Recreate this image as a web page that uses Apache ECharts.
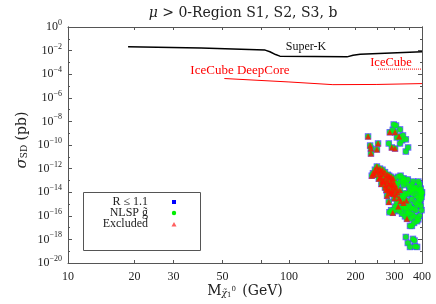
<!DOCTYPE html>
<html><head><meta charset="utf-8">
<script src="https://cdn.jsdelivr.net/npm/echarts@6/dist/echarts.min.js"></script>
<style>html,body{margin:0;padding:0;background:#fff}#c{width:436px;height:304px}</style>
</head><body><div id="c"></div>
<script>
// ---- data ----
const xLabelValues = [10, 20, 30, 50, 100, 200, 300, 400];
const xTickValues = [20, 30, 50, 75, 100, 150, 200, 250, 300, 350];
const yLabelValues = [1, 1e-2, 1e-4, 1e-6, 1e-8, 1e-10, 1e-12, 1e-14, 1e-16, 1e-18, 1e-20];
const yMinorValues = [1e-1, 1e-3, 1e-5, 1e-7, 1e-9, 1e-11, 1e-13, 1e-15, 1e-17, 1e-19];

const superK = [[18.7, 2.1e-2], [40, 1.7e-2], [78, 1.1e-2], [82, 8e-3], [87, 4.6e-3], [91, 3.4e-3],
  [130, 3.2e-3], [183, 2.95e-3], [195, 4e-3], [210, 5e-3], [400, 7.9e-3]];
const iceCubeDeepCore = [[51, 4.3e-5], [100, 2.2e-5], [158, 1.3e-5], [250, 1.35e-5], [400, 1.6e-5]];
const iceCube = [[253, 2.7e-4], [400, 2.7e-4]];

// points: NLSP gluino (green) not excluded
const nlspPoints = [
  [298, 5.5e-9], [305, 4.5e-9], [318, 2.1e-9], [295, 1.9e-9], [308, 4.4e-10], [328, 6.5e-10],
  [338, 3e-10], [283, 1.35e-10], [318, 1.35e-10], [325, 2.5e-10], [346, 6.2e-11], [338, 2.8e-11],
  [320, 2.5e-13], [330, 1.5e-13], [312, 2e-13], [330, 1e-13], [345, 1.2e-13], [365, 8e-14],
  [300, 9e-14], [310, 5e-14], [320, 8e-14], [330, 4e-14], [340, 6e-14], [350, 3e-14], [360, 4.5e-14],
  [370, 2e-14], [380, 1.2e-14], [392, 6e-15], [395, 2.5e-15], [385, 3e-15], [375, 5e-15], [362, 8e-15],
  [352, 1.2e-14], [345, 7e-15], [335, 8e-15], [325, 5e-15], [360, 2.5e-15], [372, 1.3e-15], [388, 1.5e-15],
  [350, 9e-16], [332, 4e-15], [308, 1.2e-15], [302, 6e-16], [300, 3e-16], [315, 2.5e-16], [325, 1.5e-16],
  [338, 3e-16], [350, 2e-16], [362, 1.2e-16], [372, 8e-17], [355, 6e-17], [380, 3.5e-17], [360, 1.4e-17],
  [368, 2.5e-17], [335, 9e-17], [345, 1.5e-16], [398, 4e-15], [400, 1e-14], [290, 3e-16], [285, 2e-16],
  [390, 5e-14], [395, 2e-14], [385, 8e-14], [398, 8e-15], [390, 1.5e-14], [398, 3e-16], [390, 1e-16],
  [385, 5e-17], [375, 3e-16], [365, 4e-16], [355, 5e-16], [340, 5e-16], [330, 6e-16], [320, 4e-16],
  [353, 1.4e-17], [375, 2.5e-14], [360, 1.8e-14], [395, 7e-16], [380, 8e-16],
  [338, 1.6e-18], [364, 1.1e-18], [345, 5e-19], [353, 2.3e-19], [380, 2.3e-19], [372, 2.5e-19], [370, 8e-19]
];
// excluded points (red)
const excludedPoints = [
  [228, 5.3e-10], [233, 9e-11], [235, 5e-11], [235, 1.9e-11], [253, 1.35e-10], [250, 4.2e-11],
  [286, 1.2e-9], [302, 1.2e-9], [315, 5.3e-10], [292, 6.2e-11], [302, 5e-11],
  [250, 1.5e-12], [240, 4e-13], [237, 2.5e-13], [243, 3e-13], [247, 5e-13], [252, 7e-13], [256, 3.5e-13],
  [260, 6e-13], [262, 2e-13], [255, 1.4e-13], [266, 3.5e-13], [270, 1.2e-13], [268, 7e-14], [275, 2e-13],
  [278, 9e-14], [274, 4e-14], [282, 5e-14], [285, 1.4e-13], [288, 6e-14], [290, 2.5e-14], [280, 2e-14],
  [284, 1.2e-14], [294, 1.3e-14], [298, 3e-14], [296, 7e-15], [302, 1.6e-14], [305, 6e-15], [310, 1e-14],
  [288, 8e-15], [278, 5e-15], [300, 3e-15], [315, 3e-15], [320, 1.8e-15], [330, 1.2e-15], [340, 2e-15],
  [312, 6e-16], [295, 1.8e-16], [342, 5.5e-17], [318, 1.5e-14], [258, 1.8e-13], [264, 9e-14], [292, 4e-14],
  [272, 2.5e-14], [306, 2.5e-14], [283, 1.5e-15],
  [245, 8e-13], [258, 1e-12], [265, 8e-13], [272, 5e-13], [280, 3e-13], [290, 2e-13], [295, 9e-14],
  [300, 5e-14], [262, 5e-14], [276, 1.5e-14], [290, 1e-14], [284, 2.5e-13], [296, 1.5e-13]
];

// ---- chart ----
const SERIF = "'Liberation Serif', 'DejaVu Serif', serif";
const WSERIF = "'DejaVu Serif', 'Liberation Serif', serif";
const AX = '#555';
const allPoints = nlspPoints.concat(excludedPoints);

function expFmt(v) {
  const e = Math.round(Math.log10(v));
  return '{b|10}{s|' + (e < 0 ? '\u2212' + (-e) : String(e)) + '}';
}
const yRich = {
  b: { fontFamily: SERIF, fontSize: 12, color: '#222' },
  s: { fontFamily: SERIF, fontSize: 8, color: '#222', padding: [0, 0, 8, 0] }
};

function xAxisDef(pos, labels) {
  return {
    type: 'log', logBase: 10, min: 10, max: 400, position: pos,
    axisLine: { show: true, lineStyle: { color: AX, width: 1 } },
    axisTick: { show: true, inside: true, length: 3, lineStyle: { color: AX }, customValues: xTickValues },
    axisLabel: labels ? { show: true, customValues: xLabelValues, margin: 8, fontFamily: SERIF, fontSize: 12, color: '#222', formatter: v => String(Math.round(v)) } : { show: false },
    splitLine: { show: false }, minorTick: { show: false }
  };
}
function yAxisDef(pos, ticks, len, labels) {
  return {
    type: 'log', logBase: 10, min: 1e-20, max: 1, position: pos,
    axisLine: { show: true, lineStyle: { color: AX, width: 1 } },
    axisTick: { show: true, inside: true, length: len, lineStyle: { color: AX }, customValues: ticks },
    axisLabel: labels ? { show: true, customValues: yLabelValues, margin: 6, formatter: expFmt, rich: yRich } : { show: false },
    splitLine: { show: false }, minorTick: { show: false }
  };
}

const chart = echarts.init(document.getElementById('c'), null, { renderer: 'canvas' });
chart.setOption({
  animation: false,
  backgroundColor: '#fff',
  grid: { left: 68, right: 14, top: 27, bottom: 41, containLabel: false },
  xAxis: [xAxisDef('bottom', true), xAxisDef('top', false)],
  yAxis: [
    yAxisDef('left', yLabelValues, 4, true),
    yAxisDef('left', yMinorValues, 2, false),
    yAxisDef('right', yLabelValues, 4, false),
    yAxisDef('right', yMinorValues, 2, false)
  ],
  series: [
    { type: 'line', data: superK, symbol: 'none', lineStyle: { color: '#000', width: 1.5 }, xAxisIndex: 0, yAxisIndex: 0 },
    { type: 'line', data: iceCubeDeepCore, symbol: 'none', lineStyle: { color: '#ff0000', width: 1 } },
    { type: 'line', data: iceCube, symbol: 'none', lineStyle: { color: '#ff0000', width: 1, type: 'dotted' } },
    { name: 'R', type: 'scatter', data: allPoints, symbol: 'rect', symbolSize: 6.5, itemStyle: { color: '#4040ff' } },
    { name: 'NLSP', type: 'scatter', data: allPoints, symbol: 'circle', symbolSize: 5.5, itemStyle: { color: '#00ff00' } },
    { name: 'Excl', type: 'scatter', data: excludedPoints, symbol: 'triangle', symbolSize: 6, itemStyle: { color: '#ff1000' } }
  ],
  graphic: [
    { type: 'text', x: 243, y: 13, style: { text: '{i|\u03bc} > 0-Region S1, S2, S3, b', align: 'center', verticalAlign: 'middle', rich: { i: { fontFamily: WSERIF, fontStyle: 'italic', fontSize: 14, color: '#222' } }, font: '14px ' + WSERIF, fill: '#222' } },
    { type: 'text', x: 245, y: 291, style: { text: 'M{sub|\u03c7\u0303}{s1|1}{s0|0} (GeV)', align: 'center', verticalAlign: 'middle', font: '14px ' + WSERIF, fill: '#222',
        rich: { sub: { fontFamily: WSERIF, fontStyle: 'italic', fontSize: 9, color: '#222', padding: [6, 0, 0, 0] }, s1: { fontFamily: WSERIF, fontSize: 7, color: '#222', padding: [8, 0, 0, 0] }, s0: { fontFamily: WSERIF, fontSize: 7, color: '#222', padding: [0, 2, 4, 0] } } } },
    { type: 'text', x: 22, y: 140, rotation: Math.PI / 2, style: { text: '{i|\u03c3}{sub|SD} (pb)', align: 'center', verticalAlign: 'middle', font: '14px ' + WSERIF, fill: '#222',
        rich: { i: { fontFamily: WSERIF, fontStyle: 'italic', fontSize: 15, color: '#222' }, sub: { fontFamily: WSERIF, fontSize: 9, color: '#222', padding: [6, 0, 0, 0] } } } },
    { type: 'text', x: 306, y: 47, style: { text: 'Super-K', align: 'center', verticalAlign: 'middle', font: '12px ' + SERIF, fill: '#111' } },
    { type: 'text', x: 240, y: 71, style: { text: 'IceCube DeepCore', align: 'center', verticalAlign: 'middle', font: '13px ' + SERIF, fill: '#ff0000' } },
    { type: 'text', x: 391, y: 63, style: { text: 'IceCube', align: 'center', verticalAlign: 'middle', font: '12.5px ' + SERIF, fill: '#ff0000' } },
    // legend
    { type: 'rect', shape: { x: 83.5, y: 192.5, width: 117, height: 58 }, style: { fill: '#fff', stroke: AX, lineWidth: 1 }, z: 100 },
    { type: 'text', x: 148, y: 202, z: 101, style: { text: 'R \u2264 1.1', align: 'right', verticalAlign: 'middle', font: '12px ' + SERIF, fill: '#222' } },
    { type: 'text', x: 148, y: 213, z: 101, style: { text: 'NLSP g\u0303', align: 'right', verticalAlign: 'middle', font: '12px ' + SERIF, fill: '#222' } },
    { type: 'text', x: 148, y: 224, z: 101, style: { text: 'Excluded', align: 'right', verticalAlign: 'middle', font: '12px ' + SERIF, fill: '#222' } },
    { type: 'rect', z: 101, shape: { x: 172, y: 200, width: 4, height: 4 }, style: { fill: '#0000ff' } },
    { type: 'circle', z: 101, shape: { cx: 174, cy: 213, r: 2.2 }, style: { fill: '#00ee00' } },
    { type: 'polygon', z: 101, shape: { points: [[174, 222], [171.5, 226.5], [176.5, 226.5]] }, style: { fill: '#ff6060' } }
  ]
});
</script></body></html>
